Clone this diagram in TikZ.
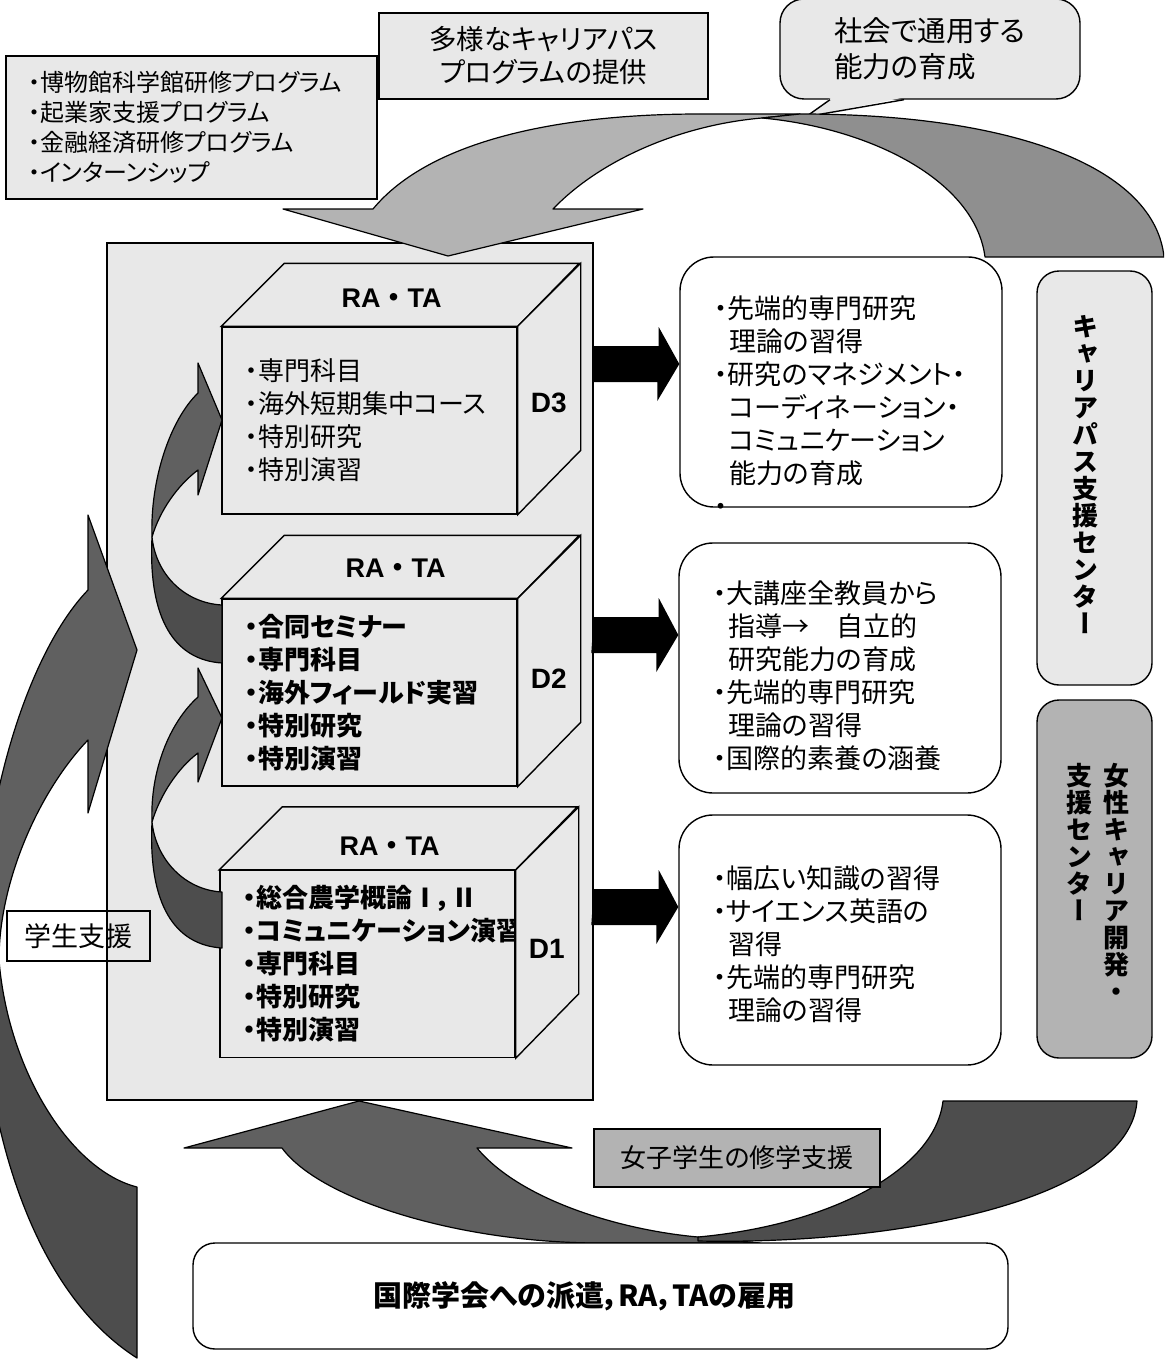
\documentclass[tikz,border=0pt]{standalone}
\usepackage{fontspec}
\setmainfont{Noto Sans CJK JP}[RawFeature=+palt]
\newfontfamily\arialf{Liberation Sans}
\newfontfamily\jpfull{Noto Sans CJK JP}
\newfontfamily\tatefont{Noto Sans CJK JP}[RawFeature=+vert]
\usepackage{tikz}
\usetikzlibrary{calc}
\definecolor{paleg}{HTML}{E8E8E8}
\definecolor{midg}{HTML}{B3B3B3}
\definecolor{tailg}{HTML}{8F8F8F}
\definecolor{headg}{HTML}{606060}
\definecolor{darkg}{HTML}{4D4D4D}
\newcommand{\ind}{\hspace*{15pt}}
\newcommand{\ratatxt}{{\arialf RA}{\jpfull ・}{\arialf TA}}
\newcommand{\fatarrow}[2]{%
	\fill [black] (main.east |- #1) ++(0,-18) -- ++(65,0) -- ++(0,-19) -- (#2.west |- #1) -- ++(-22,37) -- ++(0,-19) -- ++(-65,0) -- cycle;}

\begin{document}
\begin{tikzpicture}[x=1pt,y=-1pt,line width=1.4pt,
	panel/.style={draw,fill=paleg},
	face/.style={draw,fill=paleg,minimum width=295,minimum height=187,text width=249,align=left},
	ansbox/.style={draw,fill=white,rounded corners=34,minimum width=322,minimum height=250},
	anstext/.style={align=left,anchor=west,font=\fontsize{27}{33}\selectfont},
	sidebox/.style={draw,rounded corners=22,minimum width=115},
	tate/.style={align=center,font=\tatefont\bfseries\fontsize{26}{27}\selectfont},
	ratag/.style={font=\bfseries\fontsize{27}{27}\selectfont},
	dtag/.style={font=\arialf\bfseries\fontsize{28}{28}\selectfont},
	band/.style={draw,line width=1.2pt,line join=round}]
	\tikzstyle{every node}+=[inner sep=0pt]
	\useasboundingbox (0,0) rectangle (1164,1359);
	\clip (0,0) rectangle (1164,1359);
	\node [panel,minimum width=486,minimum height=857] (main) at (350,671.5) {};
	\node [panel,minimum width=371,minimum height=143,text width=327,align=left,font=\fontsize{24}{30}\selectfont] (progs) at (191.5,127.5) {・博物館科学館研修プログラム\\・起業家支援プログラム\\・金融経済研修プログラム\\・インターンシップ};
	\node [panel,minimum width=329,minimum height=86,align=center,font=\fontsize{27.5}{33}\selectfont] (paths) at (543.5,56) {多様なキャリアパス\\プログラムの提供};
	\node [panel,rounded corners=24,minimum width=300,minimum height=100,align=left,font=\fontsize{28.5}{36}\selectfont] (society) at (930,49) {社会で通用する\\能力の育成};
	\fill [paleg] ($(society.south)+(-99,-2)$) -- ($(society.south)+(-27,-2)$) -- ($(society.south)+(-124,17)$) -- cycle;
	\draw ($(society.south)+(-100,0)$) -- ($(society.south)+(-124,17)$) -- ($(society.south)+(-26,0)$);
	\draw [band,fill=midg] (283,209) -- (373,209) .. controls (430,140) and (560,114) .. (700,114) -- (800,114) -- (762,118) .. controls (680,125) and (600,160) .. (553,209) -- (643,209) -- (448,256) -- cycle;
	\draw [band,fill=tailg] (762,118) .. controls (870,128) and (975,180) .. (985,257) -- (1164,257) .. controls (1155,170) and (1020,114) .. (800,114) -- cycle;
	\node [ansbox] (ans3) at (841,382) {};
	\node [ansbox] (ans2) at (840,668) {};
	\node [ansbox] (ans1) at (840,940) {};
	\node [anstext] (ans3t) at ($(ans3.west)+(34,24)$) {・先端的専門研究\\\ind 理論の習得\\・研究のマネジメント・\\\ind コーディネーション・\\\ind コミュニケーション\\\ind 能力の育成\\・};
	\node [anstext] (ans2t) at ($(ans2.west)+(34,8)$) {・大講座全教員から\\\ind 指導→　自立的\\\ind 研究能力の育成\\・先端的専門研究\\\ind 理論の習得\\・国際的素養の涵養};
	\node [anstext] (ans1t) at ($(ans1.west)+(34,4)$) {・幅広い知識の習得\\・サイエンス英語の\\\ind 習得\\・先端的専門研究\\\ind 理論の習得};
	\node [sidebox,fill=paleg,minimum height=414] (cpc) at (1094.5,478) {};
	\node [tate] (cpct) at (1085,475) {キ\\ャ\\リ\\ア\\パ\\ス\\支\\援\\セ\\ン\\タ\\ー};
	\node [sidebox,fill=midg,minimum height=358] (wcc) at (1094.5,879) {};
	\node [tate,anchor=north] (wcca) at (1116,763) {女\\性\\キ\\ャ\\リ\\ア\\開\\発\\・};
	\node [tate,anchor=north] (wccb) at (1079,763) {支\\援\\セ\\ン\\タ\\ー};
	\node [face,font=\fontsize{26}{33}\selectfont] (d3) at (369.5,420.5) {・専門科目\\・海外短期集中コース\\・特別研究\\・特別演習};
	\draw [fill=paleg] (d3.north west) -- ++(63,-63) -- ++(295,0) -- (d3.north east) -- cycle;
	\draw [fill=paleg] (d3.north east) -- ++(63,-63) -- ++(0,187) -- (d3.south east) -- cycle;
	\node [ratag] (r3) at ($(d3.north)+(22,-28)$) {\ratatxt};
	\node [dtag] (n3) at ($(d3.east)+(31,-18)$) {D3};
	\node [face,font=\bfseries\fontsize{26}{33}\selectfont] (d2) at (369.5,692.5) {・合同セミナー\\・専門科目\\・海外フィールド実習\\・特別研究\\・特別演習};
	\draw [fill=paleg] (d2.north west) -- ++(63,-63) -- ++(295,0) -- (d2.north east) -- cycle;
	\draw [fill=paleg] (d2.north east) -- ++(63,-63) -- ++(0,187) -- (d2.south east) -- cycle;
	\node [ratag] (r2) at ($(d2.north)+(26,-30)$) {\ratatxt};
	\node [dtag] (n2) at ($(d2.east)+(31,-14)$) {D2};
	\node [face,font=\bfseries\fontsize{26}{33}\selectfont] (d1) at (367.5,964) {・総合農学概論Ⅰ，Ⅱ\\・コミュニケーション演習\\・専門科目\\・特別研究\\・特別演習};
	\draw [fill=paleg] (d1.north west) -- ++(63,-63) -- ++(295,0) -- (d1.north east) -- cycle;
	\draw [fill=paleg] (d1.north east) -- ++(63,-63) -- ++(0,187) -- (d1.south east) -- cycle;
	\node [ratag] (r1) at ($(d1.north)+(22,-24)$) {\ratatxt};
	\node [dtag] (n1) at ($(d1.east)+(31,-15)$) {D1};
	\draw [band,fill=headg] (198,393) -- (198,363) -- (222,420) -- (198,495) -- (198,470) .. controls (178,485) and (160,510) .. (152,537) .. controls (150,480) and (170,420) .. (198,393) -- cycle;
	\draw [band,fill=darkg] (152,537) .. controls (156,575) and (185,603) .. (222,605) -- (222,663) .. controls (175,660) and (148,620) .. (152,537) -- cycle;
	\draw [band,fill=headg] (198,697) -- (198,668) -- (222,718) -- (198,782) -- (198,753) .. controls (178,768) and (160,795) .. (152,822) .. controls (150,770) and (170,722) .. (198,697) -- cycle;
	\draw [band,fill=darkg] (152,822) .. controls (156,860) and (185,890) .. (222,892) -- (222,948) .. controls (175,945) and (148,905) .. (152,822) -- cycle;
	\draw [band,fill=headg] (88,590) -- (88,515) -- (137,650) -- (88,813) -- (88,740) .. controls (40,790) and (-1,880) .. (-1,960) -- (-20,960) .. controls (-20,800) and (30,650) .. (88,590) -- cycle;
	\draw [band,fill=darkg] (-1,960) .. controls (8,1070) and (70,1170) .. (137,1187) -- (137,1358) .. controls (30,1290) and (-18,1120) .. (-20,960) -- cycle;
	\draw [band,fill=headg] (282,1148) -- (184,1148) -- (359,1101) -- (572,1148) -- (477,1148) .. controls (520,1200) and (620,1230) .. (698,1237) -- (760,1243) -- (600,1243) .. controls (460,1243) and (320,1200) .. (282,1148) -- cycle;
	\draw [band,fill=darkg] (943,1101) .. controls (935,1170) and (830,1225) .. (698,1237) -- (698,1241) .. controls (900,1245) and (1130,1200) .. (1137,1101) -- cycle;
	\node [draw,fill=midg,minimum width=286,minimum height=58,font=\fontsize{26}{26}\selectfont] (women) at (737,1158) {女子学生の修学支援};
	\node [draw,fill=white,rounded corners=22,minimum width=815,minimum height=106,font=\bfseries\fontsize{29}{29}\selectfont] (intl) at (600.5,1296) {国際学会への派遣，RA，TAの雇用\hspace*{32pt}};
	\node [draw,minimum width=143,minimum height=50,font=\fontsize{27}{27}\selectfont] (support) at (78.5,936) {学生支援};
	\coordinate (y3) at (0,364);
	\coordinate (y2) at (0,635);
	\coordinate (y1) at (0,907);
	\fatarrow{y3}{ans3}
	\fatarrow{y2}{ans2}
	\fatarrow{y1}{ans1}
\end{tikzpicture}
\end{document}
